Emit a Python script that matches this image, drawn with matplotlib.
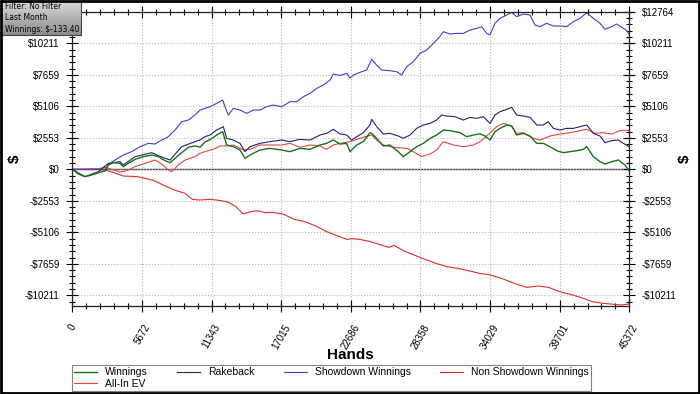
import numpy as np
import matplotlib
matplotlib.use("Agg")
import matplotlib.pyplot as plt
from matplotlib.ticker import AutoMinorLocator
from matplotlib.patches import Rectangle

plt.rcParams['font.family'] = ['Liberation Sans', 'DejaVu Sans']

# ---- data ----
win_x = [0, 491, 1034, 1577, 2121, 2664, 2935, 3342, 3885, 4157, 4564, 5107, 5786, 6465, 7008,
         7551, 7958, 8366, 8909, 9452, 9995, 10402, 10850, 11217, 11760, 12249, 12575, 13117,
         13660, 14067, 14475, 15289, 16103, 17054, 17733, 18548, 19362, 20177, 20720, 21263,
         21807, 22350, 22621, 23164, 23707, 24250, 24386, 24793, 25336, 25879, 26558, 26965,
         27508, 28051, 28594, 29137, 29680, 30224, 30767, 31581, 32125, 32668, 33211, 33619,
         34026, 34433, 34841, 35384, 35791, 36198, 36741, 37284, 37827, 38370, 38913, 39456,
         39999, 40542, 41085, 41628, 41900, 42443, 42986, 43393, 43936, 44479, 45022, 45372]
win_y = [0, -378, -594, -459, -270, -135, 351, 540, 486, 216, 486, 810, 1026, 1161, 1026,
         702, 540, 891, 1350, 1782, 1900, 1800, 2250, 2400, 2782, 3052, 1972, 1837,
         1567, 892, 1162, 1567, 1702, 1567, 1432, 1702, 1621, 1972, 2107, 2377,
         2050, 2106, 1431, 1971, 2241, 2970, 2916, 2511, 1890, 1971, 1431, 1026,
         1431, 1836, 2106, 2511, 2781, 3186, 3132, 2970, 2646, 2781, 2880, 2700,
         2376, 3051, 3321, 3591, 3510, 2781, 2916, 2700, 2106, 2106, 1836, 1512,
         1350, 1431, 1512, 1620, 1836, 1026, 621, 432, 621, 756, 351, -133]

rake_x = [0, 1034, 2121, 2935, 3885, 4157, 5107, 6465, 7551, 7958, 8909, 9995, 10402, 10809,
          11217, 11760, 12303, 12575, 13117, 13660, 14067, 14475, 15289, 16103, 17054, 17733,
          18548, 19362, 20177, 20720, 21263, 21807, 22350, 22757, 23164, 23707, 24250, 24386,
          24793, 25336, 25879, 26558, 26965, 27508, 28051, 28594, 29137, 29680, 30088, 30495,
          31174, 31853, 32396, 32939, 33482, 34026, 34433, 34841, 35384, 35791, 36198, 36741,
          37284, 37827, 38370, 38777, 39185, 39728, 40271, 40814, 41357, 41900, 42443, 42986,
          43393, 43936, 44479, 44886, 45372]
rake_y = [0, -594, -189, 486, 621, 351, 1026, 1350, 891, 756, 1836, 2241, 2377, 2646,
          2782, 3187, 3457, 2512, 2377, 2107, 1432, 1837, 2107, 2242, 2377, 2242,
          2431, 2377, 2782, 2917, 3241, 2870, 2781, 2376, 2646, 2970, 3591, 4050,
          3456, 2862, 2916, 2700, 2511, 2781, 3321, 3591, 3726, 3996, 4401, 4320,
          4266, 3996, 4212, 4131, 4266, 3726, 4401, 4671, 4860, 5022, 4401, 4320,
          4212, 3591, 3591, 3861, 3321, 3186, 3321, 3321, 3456, 3591, 2916, 2700,
          2160, 2322, 2376, 2106, 1836]

sd_x = [0, 2664, 3071, 3478, 4157, 4836, 5514, 6193, 6736, 7279, 7822, 8366, 8909, 9452,
        9995, 10402, 11217, 11760, 12249, 12439, 12710, 13117, 13660, 14203, 14746, 15289,
        15832, 16375, 17054, 17733, 18276, 18819, 19362, 19905, 20448, 20991, 21263, 21806,
        22349, 22621, 22893, 23571, 23979, 24386, 24793, 25200, 25879, 26422, 26830, 27237,
        27780, 28323, 28866, 29409, 29817, 30224, 30767, 31310, 31853, 32396, 32939, 33347,
        33754, 34026, 34433, 34841, 35384, 35791, 36198, 36741, 37284, 37692, 38099, 38642,
        39185, 39864, 40271, 40814, 41357, 41900, 42443, 42986, 43393, 43936, 44343, 44886,
        45158, 45372]
sd_y = [0, 0, 486, 756, 1161, 1431, 1836, 2106, 2052, 2376, 2646, 3186, 3861, 3996,
        4401, 4805, 5075, 5345, 5615, 5075, 4400, 4940, 4805, 4535, 4805, 4805,
        5075, 5210, 5075, 5480, 5480, 5885, 6155, 6560, 6830, 7235, 7721, 7600,
        7775, 7400, 7641, 7911, 8046, 8910, 8451, 8046, 7992, 7911, 7641, 8316,
        8721, 9396, 9666, 10206, 10611, 11151, 10962, 11016, 11016, 11286, 11421, 11556,
        11016, 10900, 11829, 12234, 12504, 12720, 12369, 12585, 12504, 11694, 11559, 11829,
        11613, 11613, 11559, 11964, 12234, 12693, 12234, 11829, 11343, 11559, 11775, 11424,
        11235, 10950]

nsw_x = [0, 1500, 2666, 3554, 4147, 5332, 6517, 7405, 8294, 9183, 9775, 10367, 11256, 12144,
         12736, 13329, 13921, 14514, 15106, 15698, 16291, 17180, 18068, 18957, 19846, 20734,
         21623, 22364, 22808, 23400, 24289, 25178, 25770, 26214, 26955, 27844, 28732, 29621,
         30509, 31398, 32287, 33175, 34064, 34953, 36137, 37026, 37915, 38803, 39692, 40580,
         41469, 42357, 43246, 44134, 44727, 45372]
nsw_y = [0, 20, -54, -324, -540, -594, -864, -1270, -1675, -1945, -2431, -2485, -2431, -2539,
         -2674, -3025, -3619, -3430, -3349, -3511, -3484, -3619, -4052, -4240, -4592, -5051,
         -5402, -5672, -5618, -5672, -5861, -6131, -6320, -6158, -6590, -6942, -7293, -7617,
         -7887, -8022, -8211, -8427, -8562, -8832, -9291, -9561, -9453, -9561, -9912, -10128,
         -10398, -10722, -10857, -10938, -10992, -10911]

ev_x = [0, 1034, 2121, 2664, 3207, 3885, 4428, 5107, 5922, 6736, 7279, 7822, 8094, 8637,
        9180, 9995, 10402, 10809, 11217, 11488, 12032, 12575, 13117, 13932, 14475, 15289,
        16103, 17054, 17733, 18548, 19362, 20177, 20720, 21263, 21807, 22621, 23436, 23843,
        24386, 24793, 25336, 26151, 27237, 27780, 28459, 29137, 29680, 30224, 31038, 31853,
        32668, 33211, 33754, 34026, 34569, 35113, 35791, 36198, 36741, 37556, 38099, 38913,
        39728, 40542, 41357, 41900, 42579, 43257, 43936, 44615, 45158, 45372]
ev_y = [0, 0, 54, 162, 0, -216, -108, 216, 486, 756, 432, -54, -189, 351,
        756, 1026, 1297, 1431, 1567, 1620, 1891, 1891, 1972, 1567, 1621, 1972,
        1972, 1972, 2107, 1783, 1972, 1891, 1621, 1972, 2106, 2241, 2511, 2646,
        2781, 2376, 1971, 1782, 1701, 1431, 1026, 1242, 1566, 2241, 1971, 1836,
        1971, 2241, 2700, 2950, 3456, 3726, 3510, 2916, 2970, 2511, 2376, 2700,
        2862, 2970, 3132, 3240, 2916, 2970, 2862, 3132, 3186, 3132]

x_ticks = [0, 5672, 11343, 17015, 22686, 28358, 34029, 39701, 45372]
y_ticks = [-10211, -7659, -5106, -2553, 0, 2553, 5106, 7659, 10211, 12764]
y_labels = ['-$10211', '-$7659', '-$5106', '-$2553', '$0', '$2553', '$5106', '$7659', '$10211', '$12764']

# ---- figure ----
fig = plt.figure(figsize=(7, 3.94), dpi=100)
ax = fig.add_axes([72.3 / 700, 1 - 305.7 / 394, 557 / 700, 293.9 / 394])

ax.axhline(0, color='#444444', lw=1.0, zorder=1)
l_ev, = ax.plot(ev_x, ev_y, color='#e04848', lw=0.8, label='All-In EV')
l_nsw, = ax.plot(nsw_x, nsw_y, color='#d83030', lw=0.8, label='Non Showdown Winnings')
l_sd, = ax.plot(sd_x, sd_y, color='#4040c0', lw=0.8, label='Showdown Winnings')
l_rk, = ax.plot(rake_x, rake_y, color='#22226e', lw=0.8, label='Rakeback')
l_win, = ax.plot(win_x, win_y, color='#1a701a', lw=1.0, label='Winnings')

ax.set_xlim(0, 45372)
ax.set_ylim(-11048, 12764)
ax.set_xticks(x_ticks)
ax.set_xticklabels([str(v) for v in x_ticks], rotation=60, ha='center', va='top')
ax.set_yticks(y_ticks)
ax.set_yticklabels(y_labels)
ax.xaxis.set_minor_locator(AutoMinorLocator(5))
ax.yaxis.set_minor_locator(AutoMinorLocator(5))
ax.tick_params(which='both', direction='inout', top=True, right=True,
               labelright=True, labelsize=7, colors='black')
ax.tick_params(which='major', length=8, width=0.8)
ax.tick_params(which='minor', length=5, width=0.8)
ax.tick_params(axis='x', pad=8)
ax.tick_params(axis='y', pad=5)
ax.grid(True, which='major', linestyle=':', color='#b8b8b8', lw=0.8)
for s in ax.spines.values():
    s.set_color('#222222')
    s.set_linewidth(0.9)
# the top-left label sits under the info box in the original
ax.yaxis.get_major_ticks()[-1].label1.set_visible(False)

ax.set_xlabel('Hands', fontsize=11, fontweight='bold')
ax.xaxis.set_label_coords(0.5, -0.145)
ax.text(-0.103, 0.5, '$', transform=ax.transAxes, rotation=90, fontsize=11,
        fontweight='bold', ha='center', va='center')
ax.text(1.100, 0.5, '$', transform=ax.transAxes, rotation=90, fontsize=11,
        fontweight='bold', ha='center', va='center')

# legend (row-major order through column fill)
leg = fig.legend([l_win, l_ev, l_rk, l_sd, l_nsw],
                 ['Winnings', 'All-In EV', 'Rakeback', 'Showdown Winnings', 'Non Showdown Winnings'],
                 ncol=4, loc='lower left', mode='expand',
                 bbox_to_anchor=(72 / 700, 1 - 391 / 394, (591 - 72) / 700, 25 / 394),
                 fontsize=7.5, frameon=True, fancybox=False, borderpad=0.2,
                 labelspacing=0.15, handlelength=2.2, handletextpad=0.8, borderaxespad=0)
leg.get_frame().set_edgecolor('#666666')
leg.get_frame().set_linewidth(0.8)

# info box top-left with grey gradient
bax = fig.add_axes([1 / 700, 1 - 35 / 394, 80 / 700, 34 / 394])
grad = np.linspace(0.85, 0.55, 50).reshape(-1, 1)
bax.imshow(grad, cmap='gray', vmin=0, vmax=1, aspect='auto', extent=[0, 1, 0, 1])
bax.set_xticks([])
bax.set_yticks([])
for s in bax.spines.values():
    s.set_color('#444444')
    s.set_linewidth(0.8)
info = ['Filter: No Filter', 'Last Month', 'Winnings: $-133.40']
for i, t in enumerate(info):
    bax.text(0.05, 0.84 - i * 0.34, t, transform=bax.transAxes, fontsize=5.5,
             family='DejaVu Sans', va='center', ha='left', color='black')

# outer frame
fig.patches.append(Rectangle((0.001, 0.002), 0.997, 0.996, transform=fig.transFigure,
                             fill=False, edgecolor='black', lw=2))

fig.savefig('out.png', dpi=100)
